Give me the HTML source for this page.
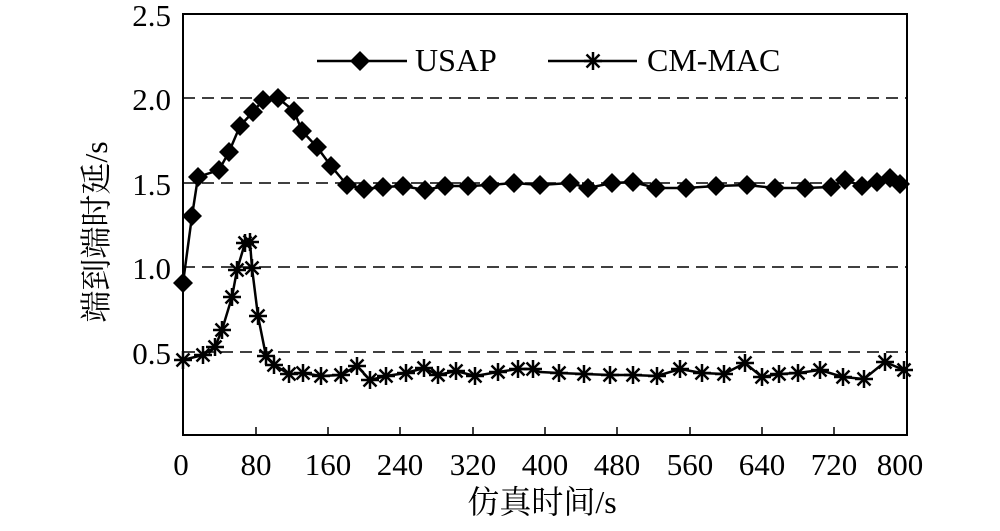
<!DOCTYPE html>
<html><head><meta charset="utf-8"><style>html,body{margin:0;padding:0;background:#fff}</style></head>
<body>
<svg width="1000" height="526" viewBox="0 0 1000 526" xmlns="http://www.w3.org/2000/svg" font-family="Liberation Serif, Noto Serif CJK SC, serif">
<defs>
<symbol id="d" overflow="visible"><path d="M0,-10 L10,0 L0,10 L-10,0Z" fill="#000"/></symbol>
<symbol id="s" overflow="visible"><g stroke="#000" stroke-width="2.5"><line x1="-9" y1="0" x2="9" y2="0"/><line x1="0" y1="-9" x2="0" y2="9"/><line x1="-6.5" y1="-6.5" x2="6.5" y2="6.5"/><line x1="-6.5" y1="6.5" x2="6.5" y2="-6.5"/></g></symbol>
</defs>
<g stroke="#000" stroke-width="1.5" stroke-dasharray="12,7" fill="none">
<line x1="183" y1="98" x2="907" y2="98"/><line x1="183" y1="183" x2="907" y2="183"/><line x1="183" y1="267" x2="907" y2="267"/><line x1="183" y1="352" x2="907" y2="352"/>
</g>
<rect x="183" y="14" width="724" height="421" fill="none" stroke="#000" stroke-width="2"/>
<g stroke="#000" stroke-width="1.5">
<line x1="256" y1="435" x2="256" y2="427"/><line x1="328" y1="435" x2="328" y2="427"/><line x1="400" y1="435" x2="400" y2="427"/><line x1="473" y1="435" x2="473" y2="427"/><line x1="545" y1="435" x2="545" y2="427"/><line x1="617" y1="435" x2="617" y2="427"/><line x1="690" y1="435" x2="690" y2="427"/><line x1="762" y1="435" x2="762" y2="427"/><line x1="834" y1="435" x2="834" y2="427"/>
</g>
<g font-size="31" text-anchor="end">
<text x="171" y="26">2.5</text><text x="171" y="110">2.0</text><text x="171" y="195">1.5</text><text x="171" y="279">1.0</text><text x="171" y="364">0.5</text>
</g>
<g font-size="31" text-anchor="middle">
<text x="181" y="475">0</text><text x="256" y="475">80</text><text x="328" y="475">160</text><text x="400" y="475">240</text><text x="473" y="475">320</text><text x="545" y="475">400</text><text x="617" y="475">480</text><text x="690" y="475">560</text><text x="762" y="475">640</text><text x="834" y="475">720</text><text x="900" y="475">800</text>
</g>
<text x="542" y="513" font-size="32" text-anchor="middle">仿真时间/s</text>
<text transform="translate(107,232) rotate(-90)" font-size="32" text-anchor="middle">端到端时延/s</text>
<polyline fill="none" stroke="#000" stroke-width="2.5" points="183,283 192,216 198,177 219,170 229,152 240,126 253,112 263,100 278,98 294,111 302,131 317,147 331,166 347,185 364,189 383,187 403,186 425,190 445,186 468,186 490,185 514,183 540,185 570,183 588,188 612,183 633,182 656,188 686,188 716,186 747,185 775,188 805,188 831,187 845,180 862,186 877,182 890,178 900,184"/>
<g>
<use href="#d" x="183" y="283"/><use href="#d" x="192" y="216"/><use href="#d" x="198" y="177"/><use href="#d" x="219" y="170"/><use href="#d" x="229" y="152"/><use href="#d" x="240" y="126"/><use href="#d" x="253" y="112"/><use href="#d" x="263" y="100"/><use href="#d" x="278" y="98"/><use href="#d" x="294" y="111"/><use href="#d" x="302" y="131"/><use href="#d" x="317" y="147"/><use href="#d" x="331" y="166"/><use href="#d" x="347" y="185"/><use href="#d" x="364" y="189"/><use href="#d" x="383" y="187"/><use href="#d" x="403" y="186"/><use href="#d" x="425" y="190"/><use href="#d" x="445" y="186"/><use href="#d" x="468" y="186"/><use href="#d" x="490" y="185"/><use href="#d" x="514" y="183"/><use href="#d" x="540" y="185"/><use href="#d" x="570" y="183"/><use href="#d" x="588" y="188"/><use href="#d" x="612" y="183"/><use href="#d" x="633" y="182"/><use href="#d" x="656" y="188"/><use href="#d" x="686" y="188"/><use href="#d" x="716" y="186"/><use href="#d" x="747" y="185"/><use href="#d" x="775" y="188"/><use href="#d" x="805" y="188"/><use href="#d" x="831" y="187"/><use href="#d" x="845" y="180"/><use href="#d" x="862" y="186"/><use href="#d" x="877" y="182"/><use href="#d" x="890" y="178"/><use href="#d" x="900" y="184"/>
</g>
<polyline fill="none" stroke="#000" stroke-width="2.5" points="183,360 203,355 215,347 222,330 232,297 237,270 245,243 250,242 252,268 258,316 266,356 274,365 289,374 303,373 321,376 341,375 357,366 370,380 386,376 406,373 424,368 438,375 456,371 475,376 498,372 518,369 533,369 540,372 559,373 584,374 610,375 633,375 657,376 680,369 702,373 724,374 745,363 762,377 779,374 798,373 820,370 843,377 864,379 885,362 904,370"/>
<g>
<use href="#s" x="183" y="360"/><use href="#s" x="203" y="355"/><use href="#s" x="215" y="347"/><use href="#s" x="222" y="330"/><use href="#s" x="232" y="297"/><use href="#s" x="237" y="270"/><use href="#s" x="245" y="243"/><use href="#s" x="250" y="242"/><use href="#s" x="252" y="268"/><use href="#s" x="258" y="316"/><use href="#s" x="266" y="356"/><use href="#s" x="274" y="365"/><use href="#s" x="289" y="374"/><use href="#s" x="303" y="373"/><use href="#s" x="321" y="376"/><use href="#s" x="341" y="375"/><use href="#s" x="357" y="366"/><use href="#s" x="370" y="380"/><use href="#s" x="386" y="376"/><use href="#s" x="406" y="373"/><use href="#s" x="424" y="368"/><use href="#s" x="438" y="375"/><use href="#s" x="456" y="371"/><use href="#s" x="475" y="376"/><use href="#s" x="498" y="372"/><use href="#s" x="518" y="369"/><use href="#s" x="533" y="369"/><use href="#s" x="559" y="373"/><use href="#s" x="584" y="374"/><use href="#s" x="610" y="375"/><use href="#s" x="633" y="375"/><use href="#s" x="657" y="376"/><use href="#s" x="680" y="369"/><use href="#s" x="702" y="373"/><use href="#s" x="724" y="374"/><use href="#s" x="745" y="363"/><use href="#s" x="762" y="377"/><use href="#s" x="779" y="374"/><use href="#s" x="798" y="373"/><use href="#s" x="820" y="370"/><use href="#s" x="843" y="377"/><use href="#s" x="864" y="379"/><use href="#s" x="885" y="362"/><use href="#s" x="904" y="370"/>
</g>
<line x1="317" y1="61" x2="407" y2="61" stroke="#000" stroke-width="2.5"/>
<use href="#d" x="360" y="61"/>
<text x="415" y="71" font-size="32">USAP</text>
<line x1="548" y1="61" x2="637" y2="61" stroke="#000" stroke-width="2.5"/>
<use href="#s" x="593" y="61"/>
<text x="647" y="71" font-size="32">CM-MAC</text>
</svg>
</body></html>
